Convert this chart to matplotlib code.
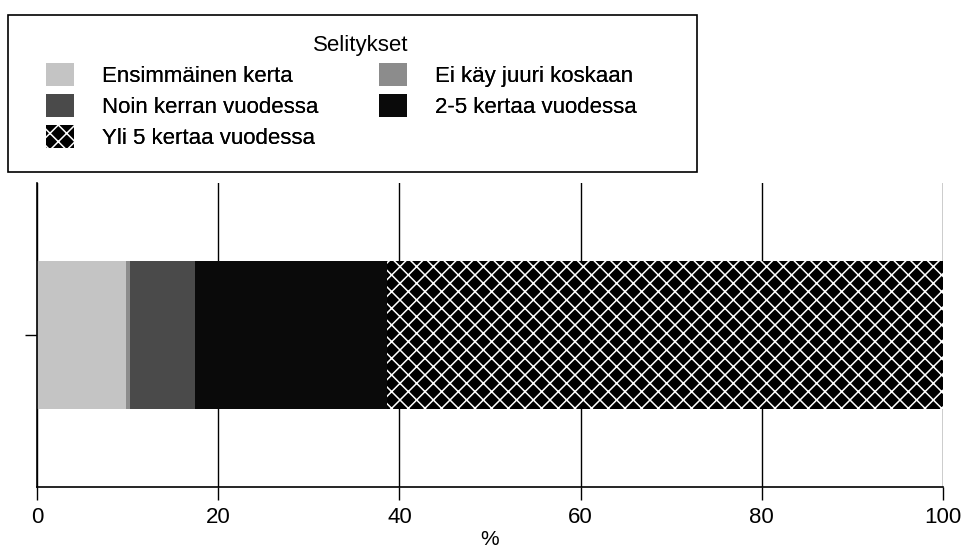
import matplotlib
matplotlib.use("Agg")
import matplotlib.pyplot as plt
from matplotlib.patches import Rectangle

plt.rcParams['font.family'] = ['Liberation Sans', 'DejaVu Sans']
plt.rcParams['hatch.linewidth'] = 1.1

# values (% of respondents)
categories = ['Ensimmäinen kerta', 'Ei käy juuri koskaan', 'Noin kerran vuodessa',
              '2-5 kertaa vuodessa', 'Yli 5 kertaa vuodessa']
shares = [9.8, 0.5, 7.1, 21.2, 61.4]
colors = ['#c4c4c4', '#8c8c8c', '#4a4a4a', '#0a0a0a', '#000000']
hatches = ['', '', '', '', 'xx']
xticks = [0, 20, 40, 60, 80, 100]

W, H = 962, 553
fig = plt.figure(figsize=(W/100, H/100), dpi=100)
ax = fig.add_axes([37/W, 1-487/H, 906/W, 304/H])

handles = []
left = 0
for name, val, col, h in zip(categories, shares, colors, hatches):
    b = ax.barh(0, val, left=left, height=0.49, color=col, hatch=h,
                edgecolor='white' if h else col, linewidth=0, label=name)
    handles.append(b)
    left += val

ax.set_xlim(0, 100)
ax.set_ylim(-0.5, 0.5)
ax.set_xticks(xticks)
ax.set_xticklabels([str(t) for t in xticks], fontsize=16)
ax.set_yticks([0])
ax.set_yticklabels([''])
ax.tick_params(axis='x', length=9.5, width=1, pad=5)
ax.tick_params(axis='y', length=8.6, width=1)
ax.xaxis.grid(True, color='black', linewidth=1)
ax.set_axisbelow(True)
ax.spines['top'].set_visible(False)
ax.spines['right'].set_visible(False)
ax.spines['left'].set_linewidth(1.2)
ax.spines['bottom'].set_linewidth(1.2)
ax.set_xlabel('%', fontsize=15, labelpad=1)

# legend frame and title
fig.patches.append(Rectangle((8/W, 1-172/H), 689/W, 157/H, transform=fig.transFigure,
                             facecolor='white', edgecolor='black', linewidth=1.2))
fig.text(361/W, 1-46/H, 'Selitykset', fontsize=16, ha='center', va='center')

# two legend columns placed separately
cols = [([0, 2, 4], 46), ([1, 3], 379)]
for idx, xpix in cols:
    leg = fig.legend([handles[i] for i in idx], [categories[i] for i in idx],
                     fontsize=16, loc='upper left',
                     bbox_to_anchor=(xpix/W, 1-63/H), frameon=False,
                     borderpad=0, borderaxespad=0, handlelength=1.26,
                     handleheight=1.2, handletextpad=1.26, labelspacing=0.32)
    fig.add_artist(leg)

fig.savefig('out.png', dpi=100)
